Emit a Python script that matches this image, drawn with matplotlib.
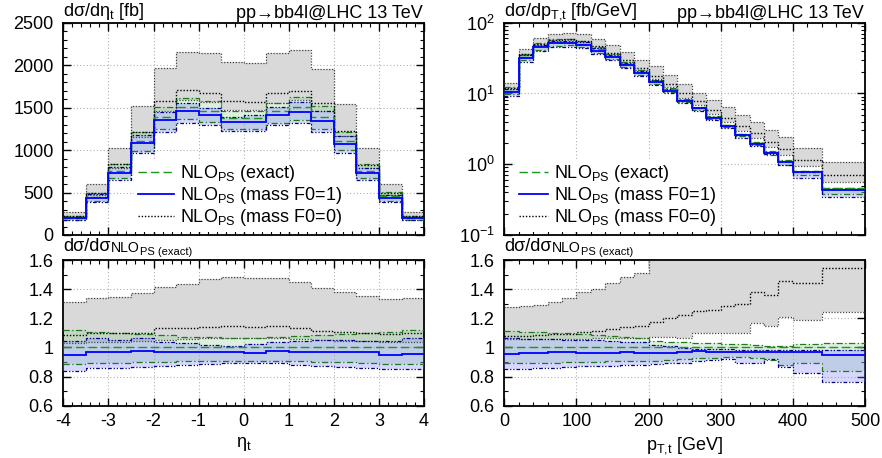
import numpy as np
import matplotlib
matplotlib.use('Agg')
import matplotlib.pyplot as plt
from matplotlib.lines import Line2D
from matplotlib.ticker import MultipleLocator, FuncFormatter, LogLocator, NullFormatter

plt.rcParams['font.family'] = ['Liberation Sans', 'DejaVu Sans']
plt.rcParams['mathtext.fontset'] = 'custom'
plt.rcParams['mathtext.rm'] = 'Liberation Sans'
plt.rcParams['mathtext.it'] = 'Liberation Sans'
plt.rcParams['mathtext.default'] = 'regular'
plt.rcParams['axes.unicode_minus'] = False

# ---------------- data: eta_t (16 bins) ----------------
eta_edges = [-4.0, -3.5, -3.0, -2.5, -2.0, -1.5, -1.0, -0.5, 0.0,
             0.5, 1.0, 1.5, 2.0, 2.5, 3.0, 3.5, 4.0]
# NLO_PS (exact) central, fb
eta_exact = [205, 450, 758, 1108, 1392, 1503, 1465, 1375,
             1378, 1455, 1502, 1393, 1112, 756, 455, 204]
# ratios to NLO_PS (exact) central
eta_exact_up = [1.118, 1.108, 1.100, 1.095, 1.085, 1.074, 1.074, 1.063,
                1.063, 1.070, 1.080, 1.088, 1.090, 1.100, 1.105, 1.117]
eta_exact_dn = [0.884, 0.890, 0.890, 0.897, 0.900, 0.905, 0.910, 0.910,
                0.910, 0.907, 0.905, 0.900, 0.897, 0.890, 0.885, 0.885]
eta_f1_mid = [0.948, 0.966, 0.966, 0.975, 0.970, 0.968, 0.966, 0.966,
              0.963, 0.975, 0.966, 0.966, 0.966, 0.966, 0.948, 0.957]
eta_f1_up = [1.044, 1.062, 1.051, 1.062, 1.040, 1.033, 1.017, 1.010,
             1.024, 1.040, 1.044, 1.050, 1.048, 1.045, 1.046, 1.062]
eta_f1_dn = [0.838, 0.857, 0.857, 0.868, 0.875, 0.880, 0.885, 0.890,
             0.890, 0.890, 0.880, 0.875, 0.868, 0.862, 0.850, 0.852]
eta_f0_mid = [1.088, 1.098, 1.100, 1.100, 1.131, 1.135, 1.142, 1.148,
              1.138, 1.147, 1.131, 1.113, 1.104, 1.097, 1.095, 1.100]
eta_f0_up = [1.310, 1.337, 1.348, 1.376, 1.417, 1.433, 1.467, 1.485,
             1.474, 1.474, 1.447, 1.406, 1.383, 1.355, 1.330, 1.337]
eta_f0_dn = [1.030, 1.040, 1.040, 1.042, 1.050, 1.058, 1.068, 1.068,
             1.068, 1.068, 1.058, 1.050, 1.045, 1.042, 1.040, 1.035]

# ---------------- data: pT,t (22 bins) ----------------
pt_edges = [0, 20, 40, 60, 80, 100, 120, 140, 160, 180, 200, 220,
            240, 260, 280, 300, 320, 340, 360, 380, 400, 440, 500]
pt_exact = [11.0, 33.0, 46.5, 53.0, 53.0, 50.0, 42.0, 33.5, 26.0, 20.0, 15.0,
            11.4, 8.2, 6.3, 4.7, 3.55, 2.65, 2.0, 1.5, 1.12, 0.79, 0.455]
pt_exact_up = [1.113, 1.108, 1.104, 1.100, 1.097, 1.092, 1.085, 1.078, 1.069, 1.062, 1.044,
               1.035, 1.035, 1.028, 1.028, 1.024, 1.022, 1.017, 1.012, 1.012, 1.021, 1.028]
pt_exact_dn = [0.890, 0.890, 0.895, 0.895, 0.900, 0.900, 0.900, 0.905, 0.905, 0.910, 0.910,
               0.915, 0.920, 0.925, 0.930, 0.935, 0.935, 0.930, 0.915, 0.880, 0.895, 0.835]
pt_f1_mid = [0.955, 0.962, 0.965, 0.968, 0.968, 0.965, 0.962, 0.965, 0.968, 0.965, 0.963,
             0.960, 0.968, 0.975, 0.970, 0.966, 0.966, 0.966, 0.968, 0.968, 0.968, 0.948]
pt_f1_up = [1.062, 1.060, 1.058, 1.056, 1.054, 1.052, 1.050, 1.044, 1.040, 1.035, 1.017,
            1.012, 0.994, 0.992, 0.992, 0.990, 0.985, 0.985, 0.982, 0.985, 0.985, 0.983]
pt_f1_dn = [0.850, 0.855, 0.860, 0.862, 0.866, 0.870, 0.872, 0.875, 0.878, 0.882, 0.885,
            0.890, 0.891, 0.910, 0.912, 0.920, 0.891, 0.891, 0.920, 0.863, 0.822, 0.765]
pt_f0_mid = [1.078, 1.080, 1.085, 1.092, 1.095, 1.108, 1.110, 1.124, 1.142, 1.145, 1.177,
             1.200, 1.225, 1.250, 1.260, 1.287, 1.296, 1.378, 1.360, 1.456, 1.440, 1.543]
pt_f0_up = [1.280, 1.284, 1.290, 1.314, 1.340, 1.383, 1.400, 1.440, 1.480, 1.510, 1.610,
            1.620, 1.640, 1.630, 1.740, 1.790, 1.880, 1.980, 2.000, 2.140, 2.120, 2.370]
pt_f0_dn = [1.055, 1.055, 1.056, 1.058, 1.060, 1.060, 1.062, 1.064, 1.066, 1.068, 1.072,
            1.074, 1.067, 1.097, 1.097, 1.100, 1.100, 1.165, 1.150, 1.210, 1.188, 1.245]

labels = ['NLO$_{PS}$ (exact)', 'NLO$_{PS}$ (mass F0=1)', 'NLO$_{PS}$ (mass F0=0)']
process = 'pp→bb4l@LHC 13 TeV'

# ---------------- styles ----------------
GREEN = '#1a961a'
GREEN_E = '#1f7a1f'
BLUE = '#0000ff'
BLUE_E = '#00008b'
GRAY_E = '#444444'
FS = 13

ls_green = (0, (6, 3))
ls_green_e = (0, (5, 2, 1, 2))
ls_blue_e = (0, (3, 1.5, 1, 1.5, 1, 1.5))
ls_dot = (0, (1, 1.3))


def draw(ax, edges, norm, exact_band, f1, f0):
    n = np.asarray(norm, dtype=float)
    e_up, e_dn = [np.asarray(a) * n for a in exact_band]
    b_mid, b_up, b_dn = [np.asarray(a) * n for a in f1]
    g_mid, g_up, g_dn = [np.asarray(a) * n for a in f0]
    # bands
    ax.stairs(g_up, edges, baseline=g_dn, fill=True, color='#d9d9d9', lw=0, zorder=1)
    ax.stairs(e_up, edges, baseline=e_dn, fill=True, color='#8fd08f', alpha=0.3, lw=0, zorder=2)
    ax.stairs(b_up, edges, baseline=b_dn, fill=True, color='#7f7fff', alpha=0.3, lw=0, zorder=3)
    # band edges
    for a in (g_up, g_dn):
        ax.stairs(a, edges, baseline=None, color=GRAY_E, ls=ls_dot, lw=0.9, zorder=4)
    for a in (e_up, e_dn):
        ax.stairs(a, edges, baseline=None, color=GREEN_E, ls=ls_green_e, lw=0.9, zorder=4)
    for a in (b_up, b_dn):
        ax.stairs(a, edges, baseline=None, color=BLUE_E, ls=ls_blue_e, lw=0.9, zorder=4)
    # central values
    ax.stairs(g_mid, edges, baseline=None, color='black', ls=ls_dot, lw=1.0, zorder=5)
    ax.stairs(n, edges, baseline=None, color=GREEN, ls=ls_green, lw=1.0, zorder=6)
    ax.stairs(b_mid, edges, baseline=None, color=BLUE, lw=1.3, zorder=7)


def style(ax):
    ax.set_axisbelow(True)
    ax.grid(True, which='major', ls=(0, (1, 2)), color='#b0b0b0', lw=0.8)
    ax.tick_params(which='both', direction='in', top=True, right=True, labelsize=FS)
    ax.tick_params(which='major', length=6, width=1.0, pad=7)
    ax.tick_params(which='minor', length=3, width=0.8)
    ax.tick_params(axis='x', which='major', pad=5)
    for s in ax.spines.values():
        s.set_linewidth(1.3)


fig = plt.figure(figsize=(8.82, 4.58), dpi=100)
ax_eta = fig.add_axes([0.0718, 0.4869, 0.4090, 0.4635])
rx_eta = fig.add_axes([0.0718, 0.1142, 0.4090, 0.3181])
ax_pt = fig.add_axes([0.5718, 0.4869, 0.4090, 0.4635])
rx_pt = fig.add_axes([0.5718, 0.1142, 0.4090, 0.3181])

ones_eta = np.ones(len(eta_exact))
ones_pt = np.ones(len(pt_exact))

draw(ax_eta, eta_edges, eta_exact, (eta_exact_up, eta_exact_dn),
     (eta_f1_mid, eta_f1_up, eta_f1_dn), (eta_f0_mid, eta_f0_up, eta_f0_dn))
draw(rx_eta, eta_edges, ones_eta, (eta_exact_up, eta_exact_dn),
     (eta_f1_mid, eta_f1_up, eta_f1_dn), (eta_f0_mid, eta_f0_up, eta_f0_dn))
draw(ax_pt, pt_edges, pt_exact, (pt_exact_up, pt_exact_dn),
     (pt_f1_mid, pt_f1_up, pt_f1_dn), (pt_f0_mid, pt_f0_up, pt_f0_dn))
draw(rx_pt, pt_edges, ones_pt, (pt_exact_up, pt_exact_dn),
     (pt_f1_mid, pt_f1_up, pt_f1_dn), (pt_f0_mid, pt_f0_up, pt_f0_dn))

for ax in (ax_eta, rx_eta, ax_pt, rx_pt):
    style(ax)

fmt_g = FuncFormatter(lambda v, p: '%g' % round(v, 3))

# eta axes
for ax in (ax_eta, rx_eta):
    ax.set_xlim(-4, 4)
    ax.xaxis.set_major_locator(MultipleLocator(1))
    ax.xaxis.set_minor_locator(MultipleLocator(0.2))
    ax.xaxis.set_major_formatter(fmt_g)
ax_eta.set_ylim(0, 2500)
ax_eta.yaxis.set_major_locator(MultipleLocator(500))
ax_eta.yaxis.set_minor_locator(MultipleLocator(100))
ax_eta.tick_params(labelbottom=False)

# pT axes
for ax in (ax_pt, rx_pt):
    ax.set_xlim(0, 500)
    ax.xaxis.set_major_locator(MultipleLocator(100))
    ax.xaxis.set_minor_locator(MultipleLocator(20))
ax_pt.set_yscale('log')
ax_pt.set_ylim(0.1, 100)
ax_pt.yaxis.set_major_locator(LogLocator(base=10))
ax_pt.yaxis.set_minor_locator(LogLocator(base=10, subs=np.arange(2, 10)))
ax_pt.yaxis.set_minor_formatter(NullFormatter())
ax_pt.yaxis.set_major_formatter(FuncFormatter(lambda v, p: '10$^{%d}$' % round(np.log10(v))))
ax_pt.tick_params(labelbottom=False)

# ratio axes
for ax in (rx_eta, rx_pt):
    ax.set_ylim(0.6, 1.6)
    ax.yaxis.set_major_locator(MultipleLocator(0.2))
    ax.yaxis.set_minor_locator(MultipleLocator(0.1))
    ax.yaxis.set_major_formatter(fmt_g)
    # label dσ/dσ_{NLO_{PS (exact)}} built from pieces so the sub sizes match
    t1 = ax.annotate('dσ/dσ', xy=(0, 1), xycoords='axes fraction',
                     xytext=(0, 6.5), textcoords='offset points',
                     ha='left', va='baseline', fontsize=FS)
    t2 = ax.annotate('NLO', xy=(1, 0), xycoords=t1, xytext=(0.3, 0.0),
                     textcoords='offset points', ha='left', va='bottom',
                     fontsize=FS * 0.78)
    ax.annotate('PS (exact)', xy=(1, 0), xycoords=t2, xytext=(0.3, -1.5),
                textcoords='offset points', ha='left', va='bottom',
                fontsize=FS * 0.62)

rx_eta.set_xlabel('η$_t$', fontsize=FS, labelpad=4)
rx_pt.set_xlabel('p$_{T{,}t}$ [GeV]', fontsize=FS, labelpad=4)

ax_eta.text(0.0, 1.005, 'dσ/dη$_t$ [fb]', transform=ax_eta.transAxes,
            ha='left', va='bottom', fontsize=FS)
ax_pt.text(0.0, 1.005, 'dσ/dp$_{T{,}t}$ [fb/GeV]', transform=ax_pt.transAxes,
           ha='left', va='bottom', fontsize=FS)
for ax in (ax_eta, ax_pt):
    ax.text(0.995, 1.005, process, transform=ax.transAxes,
            ha='right', va='bottom', fontsize=FS)

handles = [Line2D([], [], color=GREEN, ls=ls_green, lw=1.0),
           Line2D([], [], color=BLUE, lw=1.3),
           Line2D([], [], color='black', ls=ls_dot, lw=1.0)]

for ax, x0, hl in ((ax_eta, 0.196, 2.0), (ax_pt, 0.030, 1.6)):
    leg = ax.legend(handles, labels, loc='upper left', bbox_to_anchor=(x0, 0.355),
                    fontsize=FS, frameon=True, framealpha=1, facecolor='white',
                    edgecolor='none', fancybox=False, handlelength=hl,
                    handletextpad=0.35, labelspacing=0.05, borderpad=0.2,
                    borderaxespad=0)
    leg.set_zorder(10)

fig.savefig('out.png', dpi=100)
